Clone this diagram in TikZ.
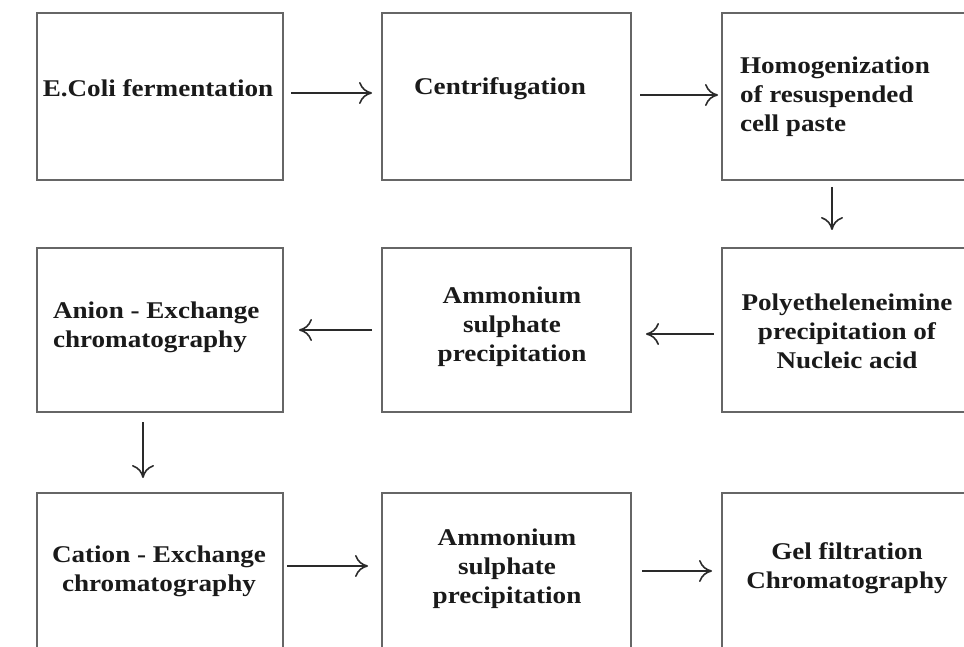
\documentclass[tikz,border=0pt]{standalone}
\usepackage{fontspec}
\setmainfont{Liberation Serif}[FakeStretch=1.13]
\usetikzlibrary{arrows.meta,calc}
\definecolor{boxgray}{HTML}{666666}
\definecolor{arrgray}{HTML}{2A2A2A}
\definecolor{txt}{HTML}{1A1A1A}
\tikzset{
  stepbox/.style={draw=boxgray, line width=1.3pt, inner sep=0pt, outer sep=0pt,
    minimum height=167pt},
  wbox/.style={stepbox, minimum width=246pt},
  mbox/.style={stepbox, minimum width=249pt},
  rbox/.style={stepbox, minimum width=253pt},
  lbl/.style={inner sep=0pt, outer sep=0pt, text=txt,
    font=\fontsize{24}{29}\selectfont\bfseries},
  arr/.style={draw=arrgray, line width=1.6pt,
    -{Computer Modern Rightarrow[length=13pt,width=22pt,line width=1.6pt]}}
}
\begin{document}
\begin{tikzpicture}[x=1pt,y=-1pt]
\useasboundingbox (0,0) rectangle (964,647);
\clip (0,0) rectangle (964,647);
% boxes
\node[wbox] (b1) at (160,96.5) {};
\node[mbox] (b2) at (506.5,96.5) {};
\node[rbox] (b3) at (848.5,96.5) {};
\node[wbox, minimum height=164pt] (b4) at (160,330) {};
\node[mbox, minimum height=164pt] (b5) at (506.5,330) {};
\node[rbox, minimum height=164pt] (b6) at (848.5,330) {};
\node[wbox] (b7) at (160,576.5) {};
\node[mbox] (b8) at (506.5,576.5) {};
\node[rbox] (b9) at (848.5,576.5) {};
% labels
\node[lbl, anchor=base] (t1) at (158,97) {E.Coli fermentation};
\node[lbl, anchor=base] (t2) at (500,95) {Centrifugation};
\node[lbl, anchor=north west, align=left] (t3) at (740,56.8) {Homogenization\\of resuspended\\cell paste};
\node[lbl, anchor=north west, align=left] (t4) at (53,301.8) {Anion - Exchange\\chromatography};
\node[lbl, anchor=north, align=center] (t5) at (512,286.8) {Ammonium\\sulphate\\precipitation};
\node[lbl, anchor=north, align=center] (t6) at (847,293.8) {Polyetheleneimine\\precipitation of\\Nucleic acid};
\node[lbl, anchor=north, align=center] (t7) at (159,545.8) {Cation - Exchange\\chromatography};
\node[lbl, anchor=north, align=center] (t8) at (507,528.8) {Ammonium\\sulphate\\precipitation};
\node[lbl, anchor=north, align=center] (t9) at (847,542.8) {Gel filtration\\Chromatography};
% arrows
\draw[arr] ($(b1.east)+(8,-3.5)$) -- ($(b2.west)+(-10,-3.5)$);
\draw[arr] ($(b2.east)+(9,-1.5)$) -- ($(b3.west)+(-4,-1.5)$);
\draw[arr] ($(b3.south)+(-16.5,7)$) -- ($(b6.north)+(-16.5,-18)$);
\draw[arr] ($(b6.west)+(-8,4)$) -- ($(b5.east)+(15,4)$);
\draw[arr] ($(b5.west)+(-10,0)$) -- ($(b4.east)+(16,0)$);
\draw[arr] ($(b4.south)+(-17,10)$) -- ($(b7.north)+(-17,-15)$);
\draw[arr] ($(b7.east)+(4,-10.5)$) -- ($(b8.west)+(-14,-10.5)$);
\draw[arr] ($(b8.east)+(11,-5.5)$) -- ($(b9.west)+(-10,-5.5)$);
\end{tikzpicture}
\end{document}
